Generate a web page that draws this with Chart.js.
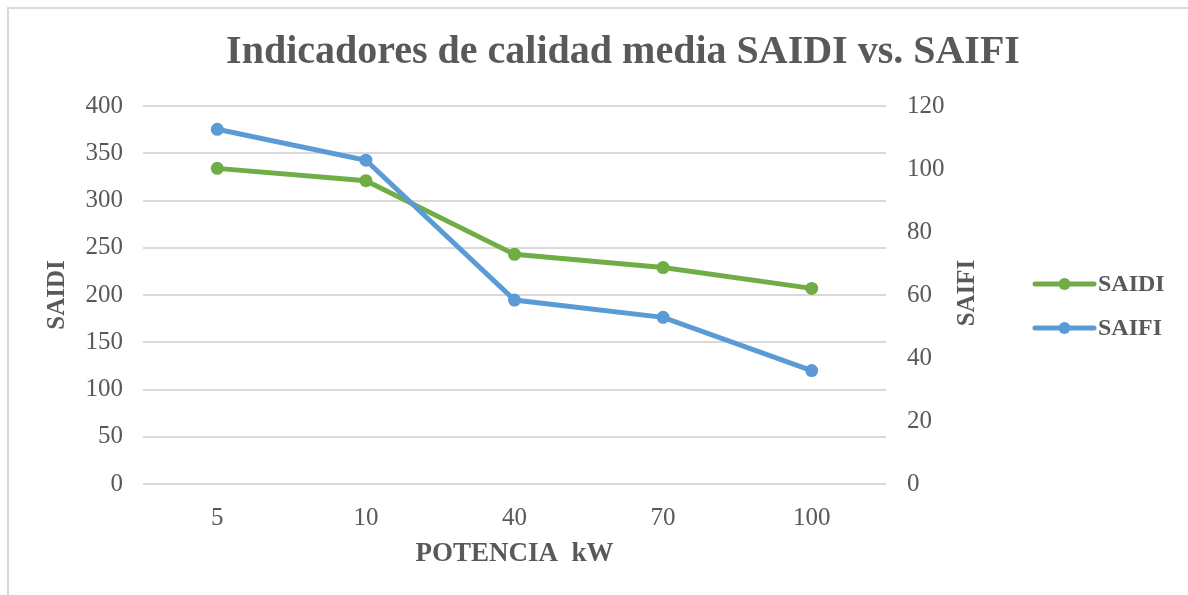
<!DOCTYPE html>
<html>
<head>
<meta charset="utf-8">
<style>
  body{margin:0;background:#fff;overflow:hidden;}
  #frame{position:absolute;left:7px;top:7px;width:1200px;height:600px;border:2px solid #d9d9d9;box-sizing:border-box;}
  #wrap{position:absolute;left:0;top:0;width:1188px;height:595px;}
</style>
</head>
<body>
<div id="frame"></div>
<div id="wrap"><canvas id="myChart" width="1188" height="595"></canvas></div>
<script src="https://cdn.jsdelivr.net/npm/chart.js"></script>
<script>
// data
const categories = ['5', '10', '40', '70', '100']
const saidi = [334, 321, 243, 229, 207]
const saifi = [112.6, 102.8, 58.4, 52.9, 36.0]
const seriesNames = ['SAIDI', 'SAIFI']
const seriesColors = ['#70AD47', '#5B9BD5']

const textColor = '#595959'
const serif = "'Liberation Serif', 'Times New Roman', serif"

// legend + right axis title drawn by hand (Excel style)
const extras = {
  id: 'extras',
  afterDraw(chart){
    const ctx = chart.ctx
    ctx.save()
    // right axis title, reading bottom to top
    ctx.translate(968, 293)
    ctx.rotate(-Math.PI / 2)
    ctx.fillStyle = textColor
    ctx.font = 'bold 25px ' + serif
    ctx.textAlign = 'center'
    ctx.textBaseline = 'middle'
    ctx.fillText('SAIFI', 0, 0)
    ctx.restore()

    ctx.save()
    const ys = [284, 328]
    chart.data.datasets.forEach((ds, i)=>{
      const y = ys[i]
      ctx.strokeStyle = ds.borderColor
      ctx.lineWidth = 5
      ctx.lineCap = 'round'
      ctx.beginPath()
      ctx.moveTo(1035, y)
      ctx.lineTo(1094, y)
      ctx.stroke()
      ctx.fillStyle = ds.borderColor
      ctx.beginPath()
      ctx.arc(1064.5, y, 6, 0, Math.PI * 2)
      ctx.fill()
      ctx.fillStyle = textColor
      ctx.font = 'bold 24px ' + serif
      ctx.textAlign = 'left'
      ctx.textBaseline = 'middle'
      ctx.fillText(ds.label, 1098, y + 1)
    })
    ctx.restore()
  }
}

let config = {
  type: 'line',
  data: {
    labels: categories,
    datasets: [
      {
        label: seriesNames[0],
        data: saidi,
        borderColor: seriesColors[0],
        backgroundColor: seriesColors[0],
        yAxisID: 'y',
        order: 2
      },
      {
        label: seriesNames[1],
        data: saifi,
        borderColor: seriesColors[1],
        backgroundColor: seriesColors[1],
        yAxisID: 'y1',
        order: 1
      }
    ]
  },
  options: {
    responsive: false,
    animation: false,
    layout: {padding: {left: 58, right: 0, top: 0, bottom: 0}},
    elements: {
      line: {borderWidth: 5, tension: 0},
      point: {radius: 6.5, borderWidth: 0, hoverRadius: 6.5}
    },
    plugins: {
      legend: {display: false},
      tooltip: {enabled: false},
      title: {
        display: true,
        text: 'Indicadores de calidad media SAIDI vs. SAIFI',
        color: textColor,
        font: {family: serif, size: 40, weight: 'bold'},
        padding: {top: 29, bottom: 29}
      }
    },
    scales: {
      x: {
        offset: true,
        grid: {display: false, drawTicks: false},
        border: {display: false},
        ticks: {color: textColor, font: {family: serif, size: 25}, padding: 19},
        title: {
          display: true,
          text: 'POTENCIA  kW',
          color: textColor,
          font: {family: serif, size: 27, weight: 'bold'},
          padding: {top: 25, bottom: 25}
        },
        afterFit(scale){ scale.height = 111 }
      },
      y: {
        position: 'left',
        min: 0,
        max: 400,
        ticks: {stepSize: 50, color: textColor, font: {family: serif, size: 25}, padding: 20},
        grid: {color: '#d9d9d9', lineWidth: 2, drawTicks: false},
        border: {display: false},
        title: {
          display: true,
          text: 'SAIDI',
          color: textColor,
          font: {family: serif, size: 25, weight: 'bold', lineHeight: 0},
          padding: 0
        },
        afterFit(scale){ scale.width = 85 }
      },
      y1: {
        position: 'right',
        min: 0,
        max: 120,
        ticks: {stepSize: 20, color: textColor, font: {family: serif, size: 25}, padding: 21},
        grid: {drawOnChartArea: false, drawTicks: false},
        border: {display: false},
        afterFit(scale){ scale.width = 302 }
      }
    }
  },
  plugins: [extras]
}

const myChart = new Chart(document.getElementById('myChart'), config)
</script>
</body>
</html>
